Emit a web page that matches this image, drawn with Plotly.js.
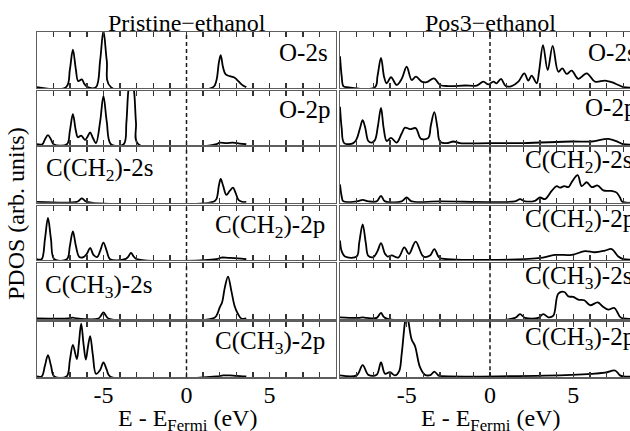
<!DOCTYPE html>
<html><head><meta charset="utf-8">
<script src="https://cdn.plot.ly/plotly-3.0.1.min.js"></script>
<style>html,body{margin:0;padding:0;overflow:hidden;background:#fff}#chart{width:642px;height:431px}</style>
</head><body><div id="chart"></div><script>
// ---------------- data ----------------
const columnTitles = ['Pristine\u2212ethanol', 'Pos3\u2212ethanol'];
const orbitalLabels = ['O-2s', 'O-2p', 'C(CH<sub>2</sub>)-2s', 'C(CH<sub>2</sub>)-2p', 'C(CH<sub>3</sub>)-2s', 'C(CH<sub>3</sub>)-2p'];
const tickVals = [-9, -8, -7, -6, -5, -4, -3, -2, -1, 0, 1, 2, 3, 4, 5, 6, 7, 8, 9];
const tickText = ['', '', '', '', '-5', '', '', '', '', '0', '', '', '', '', '5', '', '', '', ''];
const xTitle = 'E - E<sub>Fermi</sub> (eV)';
const yTitle = 'PDOS (arb. units)';

// Pristine-ethanol
const pri_O2s_E = [-9, -7.25, -7.02, -6.84, -6.66, -6.52, -6.3, -6.15, -5.95, -5.45, -5.2, -5.0, -4.8, -4.55, 1.6, 1.8, 1.95, 2.06, 2.2, 2.36, 2.6, 2.9, 3.15, 3.4, 3.6];
const pri_O2s_D = [0, 0, 0.32, 0.68, 0.32, 0.11, 0.14, 0.06, 0, 0, 0.48, 1.02, 0.48, 0, 0, 0.12, 0.45, 0.58, 0.36, 0.23, 0.2, 0.17, 0.1, 0.03, 0];

const pri_O2p_E = [-9, -8.68, -8.52, -8.34, -8.16, -8.0, -7.2, -7.02, -6.84, -6.66, -6.54, -6.34, -6.1, -5.96, -5.8, -5.64, -5.45, -5.2, -5.0, -4.8, -4.55, -3.78, -3.62, -3.5, -3.34, -3.16, -3.04, -2.9, 1.8, 2.0, 2.4, 2.8, 3.2, 3.6];
const pri_O2p_D = [0, 0, 0.09, 0.17, 0.09, 0, 0, 0.25, 0.56, 0.25, 0.13, 0.16, 0.08, 0.14, 0.22, 0.12, 0.02, 0.42, 0.9, 0.42, 0, 0, 0.4, 1.0, 1.3, 1.0, 0.4, 0, 0, 0.03, 0.02, 0.03, 0.01, 0];

const pri_CH2s_E = [-9, -6.6, -6.45, -6.3, -6.15, -6.0, 1.6, 1.8, 1.95, 2.06, 2.2, 2.4, 2.6, 2.8, 2.95, 3.14, 3.35, 3.6];
const pri_CH2s_D = [0, 0, 0.03, 0.065, 0.03, 0, 0, 0.05, 0.3, 0.42, 0.3, 0.13, 0.2, 0.26, 0.17, 0.03, 0, 0];

const pri_CH2p_E = [-9, -8.72, -8.52, -8.34, -8.16, -7.96, -7.2, -7.02, -6.84, -6.66, -6.45, -6.2, -6.0, -5.8, -5.6, -5.38, -5.2, -5.0, -4.8, -4.6, -3.7, -3.5, -3.34, -3.18, -3.0, 1.8, 2.1, 2.5, 2.9, 3.3, 3.6];
const pri_CH2p_D = [0, 0, 0.38, 0.77, 0.38, 0, 0, 0.25, 0.52, 0.25, 0.04, 0.04, 0.1, 0.21, 0.08, 0.04, 0.15, 0.31, 0.15, 0, 0, 0.05, 0.12, 0.05, 0, 0, 0.03, 0.025, 0.02, 0.01, 0];

const pri_CH3s_E = [-9, -7.1, -6.84, -6.6, -5.3, -5.15, -5.0, -4.85, -4.7, 1.6, 1.8, 2.0, 2.15, 2.3, 2.5, 2.7, 2.9, 3.1, 3.3, 3.6];
const pri_CH3s_D = [0, 0, 0.015, 0, 0, 0.05, 0.11, 0.05, 0, 0, 0.05, 0.2, 0.3, 0.55, 0.76, 0.5, 0.22, 0.08, 0, 0];

const pri_CH3p_E = [-9, -8.72, -8.52, -8.34, -8.16, -7.96, -7.22, -7.02, -6.84, -6.6, -6.48, -6.34, -6.2, -6.06, -5.93, -5.8, -5.64, -5.45, -5.2, -5.0, -4.8, -4.6, 1.8, 2.2, 2.6, 3.0, 3.6];
const pri_CH3p_D = [0, 0, 0.2, 0.39, 0.2, 0, 0, 0.3, 0.58, 0.32, 0.6, 0.97, 0.6, 0.31, 0.55, 0.74, 0.4, 0.05, 0.12, 0.26, 0.12, 0, 0, 0.02, 0.02, 0.01, 0];

// Pos3-ethanol
const pos_O2s_E = [-9, -8.9, -8.8, -8.6, -6.9, -6.75, -6.54, -6.35, -6.2, -5.94, -5.6, -5.3, -5.0, -4.7, -4.44, -4.1, -3.8, -3.36, -3.0, -2.5, -1.5, -0.8, -0.4, -0.1, 0.2, 0.4, 0.66, 0.94, 1.3, 1.7, 2.06, 2.3, 2.5, 2.8, 2.95, 3.18, 3.46, 3.76, 4.1, 4.34, 4.6, 4.9, 5.3, 5.8, 6.3, 6.9, 7.3, 7.7, 8.0, 9];
const pos_O2s_D = [0.56, 0.2, 0.02, 0, 0, 0.2, 0.53, 0.18, 0.07, 0.18, 0.04, 0.15, 0.37, 0.13, 0.19, 0.1, 0.09, 0.16, 0.04, 0.02, 0.03, 0.03, 0.1, 0.05, 0.1, 0.07, 0.15, 0.02, 0.02, 0.1, 0.25, 0.12, 0.21, 0.07, 0.3, 0.76, 0.31, 0.75, 0.28, 0.34, 0.24, 0.3, 0.15, 0.25, 0.1, 0.12, 0.09, 0.04, 0, 0];

const pos_O2p_E = [-9, -8.9, -8.75, -8.2, -8.0, -7.8, -7.64, -7.48, -7.3, -7.1, -6.9, -6.72, -6.54, -6.38, -6.2, -5.94, -5.6, -5.3, -5.1, -4.8, -4.46, -4.14, -3.7, -3.55, -3.34, -3.15, -3.0, -2.6, -2.2, -1.8, 0, 2, 4.9, 6.1, 7.1, 7.7, 8.0, 9];
const pos_O2p_D = [0.7, 0.3, 0.02, 0.02, 0.1, 0.3, 0.45, 0.3, 0.06, 0.03, 0.08, 0.35, 0.68, 0.3, 0.06, 0.12, 0.03, 0.2, 0.31, 0.28, 0.3, 0.1, 0.12, 0.35, 0.6, 0.3, 0.05, 0.02, 0.05, 0.02, 0.02, 0.02, 0.05, 0.05, 0.1, 0.04, 0, 0];

const pos_CH2s_E = [-9, -8.9, -8.8, -8.0, -7.64, -7.3, -6.8, -6.54, -6.3, -5.3, -5.0, -4.7, -3, 1.5, 1.8, 2.1, 2.7, 3.0, 3.3, 3.7, 4.0, 4.2, 4.46, 4.7, 4.94, 5.26, 5.5, 5.8, 6.1, 6.46, 6.8, 7.3, 7.6, 7.8, 7.95, 9];
const pos_CH2s_D = [0.32, 0.1, 0.01, 0.01, 0.035, 0.01, 0.01, 0.11, 0.01, 0.01, 0.08, 0.01, 0.01, 0.01, 0.05, 0.01, 0.02, 0.08, 0.05, 0.2, 0.29, 0.26, 0.29, 0.27, 0.38, 0.49, 0.29, 0.36, 0.27, 0.3, 0.21, 0.2, 0.17, 0.08, 0, 0];

const pos_CH2p_E = [-9, -8.9, -8.7, -8.0, -7.85, -7.64, -7.45, -7.3, -7.0, -6.75, -6.54, -6.3, -6.14, -5.9, -5.5, -5.14, -4.86, -4.46, -4.0, -3.6, -3.34, -3.1, -3.0, 2.9, 3.9, 4.9, 5.7, 6.3, 6.9, 7.3, 7.7, 8.0, 9];
const pos_CH2p_D = [0.35, 0.15, 0.05, 0.05, 0.3, 0.65, 0.3, 0.06, 0.04, 0.15, 0.3, 0.1, 0.05, 0.07, 0.03, 0.22, 0.1, 0.33, 0.05, 0.07, 0.19, 0.05, 0.02, 0.02, 0.08, 0.08, 0.15, 0.13, 0.16, 0.19, 0.05, 0, 0];

const pos_CH3s_E = [-9, -7.9, -7.64, -7.4, -6.8, -6.54, -6.3, 1.5, 1.8, 2.1, 2.9, 3.2, 3.5, 3.8, 4.1, 4.46, 4.7, 5.0, 5.3, 5.66, 6.0, 6.46, 6.8, 7.1, 7.46, 7.8, 8.0, 9];
const pos_CH3s_D = [0.02, 0.01, 0.02, 0.01, 0.01, 0.1, 0.01, 0.01, 0.08, 0.01, 0.01, 0.08, 0.02, 0.05, 0.45, 0.48, 0.4, 0.39, 0.34, 0.33, 0.24, 0.29, 0.21, 0.16, 0.19, 0.03, 0, 0];

const pos_CH3p_E = [-9, -8.0, -7.64, -7.3, -6.8, -6.54, -6.3, -6.0, -5.7, -5.45, -5.3, -5.1, -5.0, -4.9, -4.7, -4.5, -4.2, -3.9, -3.55, -3.34, -3.1, -3.0, 4.9, 6.9, 7.5, 7.8, 8.0, 9];
const pos_CH3p_D = [0.02, 0.02, 0.21, 0.03, 0.03, 0.26, 0.05, 0.08, 0.02, 0.1, 0.41, 1.0, 1.15, 1.02, 0.68, 0.56, 0.17, 0.03, 0.03, 0.09, 0.02, 0.01, 0.03, 0.07, 0.11, 0.02, 0, 0];

// ---------------- build ----------------
const series = [
  [[pri_O2s_E, pri_O2s_D], [pos_O2s_E, pos_O2s_D]],
  [[pri_O2p_E, pri_O2p_D], [pos_O2p_E, pos_O2p_D]],
  [[pri_CH2s_E, pri_CH2s_D], [pos_CH2s_E, pos_CH2s_D]],
  [[pri_CH2p_E, pri_CH2p_D], [pos_CH2p_E, pos_CH2p_D]],
  [[pri_CH3s_E, pri_CH3s_D], [pos_CH3s_E, pos_CH3s_D]],
  [[pri_CH3p_E, pri_CH3p_D], [pos_CH3p_E, pos_CH3p_D]]
];

const W = 642, H = 431;
const colPx = [[37, 336], [340, 640]];
const rowPx = [[32, 88], [90.7, 145], [147.3, 202.7], [205.7, 260], [263.3, 319.3], [322, 377.3]];
// label placement: [x data, y pixel (cap centre), anchor]
const labelPos = [
  [[5.45, 50, 'left'], [5.75, 50, 'left']],
  [[5.45, 107, 'left'], [5.6, 106, 'left']],
  [[-8.6, 167.5, 'left'], [1.95, 159.5, 'left']],
  [[1.6, 225, 'left'], [1.95, 218.5, 'left']],
  [[-8.65, 284, 'left'], [1.95, 275, 'left']],
  [[1.6, 340.5, 'left'], [1.95, 336.5, 'left']]
];

const FONT = 'Liberation Serif, Times New Roman, serif';
const frameColor = '#5e5e5e';
const traces = [];
const layout = {
  width: W, height: H,
  margin: {l: 0, r: 0, t: 0, b: 0},
  paper_bgcolor: '#fff', plot_bgcolor: '#fff',
  showlegend: false,
  font: {family: FONT, size: 24, color: '#000'},
  shapes: [], annotations: []
};

for (let r = 0; r < 6; r++) {
  for (let c = 0; c < 2; c++) {
    const k = r * 2 + c + 1;
    const xa = 'xaxis' + (k === 1 ? '' : k), ya = 'yaxis' + (k === 1 ? '' : k);
    const xr = 'x' + (k === 1 ? '' : k), yr = 'y' + (k === 1 ? '' : k);
    const [E, D] = series[r][c];
    traces.push({
      x: E, y: D, type: 'scatter', mode: 'lines', xaxis: xr, yaxis: yr,
      line: {color: '#000', width: 1.8, shape: 'spline', smoothing: 1},
      hoverinfo: 'skip'
    });
    layout[xa] = {
      domain: [colPx[c][0] / W, colPx[c][1] / W], range: [-9, 9], anchor: yr,
      showline: true, mirror: 'allticks', linecolor: frameColor, linewidth: 1.2,
      ticks: 'inside', ticklen: 5, tickcolor: '#333', tickwidth: 1.5,
      tickmode: 'array', tickvals: tickVals, ticktext: tickText,
      showticklabels: r === 5, tickfont: {family: FONT, size: 24, color: '#000'},
      ticklabelstandoff: -4,
      showgrid: false, zeroline: false, fixedrange: true
    };
    layout[ya] = {
      domain: [1 - rowPx[r][1] / H, 1 - rowPx[r][0] / H], range: [-0.015, 1.0], anchor: xr,
      showline: true, mirror: true, linecolor: frameColor, linewidth: 1.2,
      ticks: '', showticklabels: false, showgrid: false, zeroline: false, fixedrange: true
    };
    layout.shapes.push({
      type: 'line', xref: xr, yref: yr + ' domain', x0: 0, x1: 0, y0: 0, y1: 1,
      line: {color: '#1a1a1a', width: 1.5, dash: '4px,3px'}
    });
    const lp = labelPos[r][c];
    layout.annotations.push({
      text: orbitalLabels[r], xref: xr, yref: 'paper', x: lp[0], y: 1 - (lp[1] + 2) / H,
      xanchor: lp[2], yanchor: 'middle', showarrow: false,
      font: {family: FONT, size: 25, color: '#000'}
    });
  }
}

// column titles
layout.annotations.push({text: columnTitles[0], xref: 'paper', yref: 'paper', x: 186.5 / W, y: 1 - 23 / H, xanchor: 'center', yanchor: 'middle', showarrow: false, font: {family: FONT, size: 24}});
layout.annotations.push({text: columnTitles[1], xref: 'paper', yref: 'paper', x: 490 / W, y: 1 - 23 / H, xanchor: 'center', yanchor: 'middle', showarrow: false, font: {family: FONT, size: 24}});
// x titles
layout.annotations.push({text: xTitle, xref: 'paper', yref: 'paper', x: 188 / W, y: 1 - 420 / H, xanchor: 'center', yanchor: 'middle', showarrow: false, font: {family: FONT, size: 24}});
layout.annotations.push({text: xTitle, xref: 'paper', yref: 'paper', x: 490 / W, y: 1 - 420 / H, xanchor: 'center', yanchor: 'middle', showarrow: false, font: {family: FONT, size: 24}});
// y title
layout.annotations.push({text: yTitle, xref: 'paper', yref: 'paper', x: 16 / W, y: 1 - 214 / H, xanchor: 'center', yanchor: 'middle', textangle: -90, showarrow: false, font: {family: FONT, size: 24}});

Plotly.newPlot('chart', traces, layout, {displayModeBar: false, staticPlot: true});
</script></body></html>
